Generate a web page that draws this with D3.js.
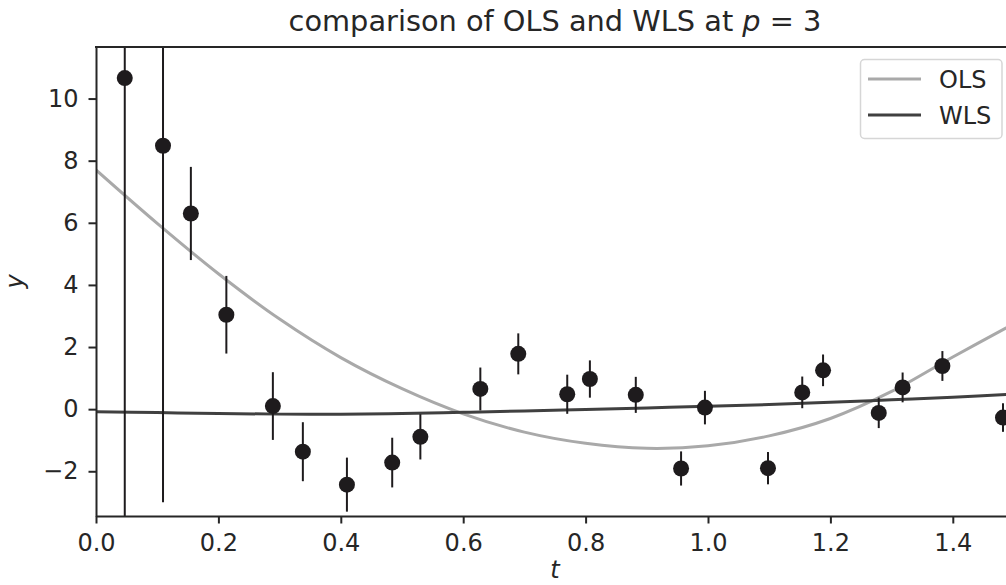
<!DOCTYPE html>
<html lang="en">
<head>
    <meta charset="UTF-8">
    <title>OLS vs WLS</title>
    <script type="text/javascript" src="https://cdn.jsdelivr.net/npm/d3@7"></script>
    <style type="text/css">
        body { margin: 0; background: white; }
        svg text { font-family: "DejaVu Sans", sans-serif; fill: #262626; }
        .axis text { font-size: 24px; }
        .axis line, .axis path { stroke: #262626; stroke-width: 2px; }
    </style>
</head>
<body>
    <script type="text/javascript">
        // observations (t, y, error half-width)
        var tObs = [0.047, 0.1095, 0.155, 0.213, 0.289, 0.338, 0.410, 0.484, 0.530, 0.628, 0.690,
                    0.770, 0.807, 0.882, 0.956, 0.995, 1.098, 1.154, 1.188, 1.279, 1.318, 1.383, 1.482];
        var yObs = [10.66, 8.48, 6.30, 3.04, 0.10, -1.37, -2.43, -1.72, -0.89, 0.65, 1.78,
                    0.48, 0.97, 0.46, -1.91, 0.05, -1.90, 0.54, 1.25, -0.12, 0.70, 1.39, -0.27];
        var yErr = [16.0, 11.48, 1.50, 1.25, 1.09, 0.95, 0.87, 0.80, 0.73, 0.69, 0.66,
                    0.63, 0.60, 0.58, 0.55, 0.54, 0.52, 0.51, 0.51, 0.49, 0.48, 0.48, 0.46];

        var tFit = [0, 0.1, 0.2, 0.3, 0.4, 0.5, 0.6, 0.7, 0.8, 0.9, 1.0, 1.1, 1.2, 1.3, 1.4, 1.5];
        var olsFit = [7.70, 5.98, 4.36, 2.90, 1.66, 0.66, -0.15, -0.74, -1.10, -1.26, -1.18, -0.86, -0.30, 0.57, 1.68, 2.75];
        var wlsFit = [-0.08, -0.11, -0.14, -0.16, -0.16, -0.14, -0.10, -0.06, -0.01, 0.04, 0.09, 0.15, 0.22, 0.30, 0.38, 0.49];

        var xTicks = [0.0, 0.2, 0.4, 0.6, 0.8, 1.0, 1.2, 1.4];
        var yTicks = [-2, 0, 2, 4, 6, 8, 10];
        var seriesNames = ["OLS", "WLS"];
        var seriesColors = ["#a9a9a9", "#404040"];

        var width = 1006;
        var height = 585;
        var plotLeft = 96, plotRight = 1014, plotTop = 47, plotBottom = 516;
        var dark = "#1e1b1d";

        var x = d3.scaleLinear().domain([0, 1.5]).range([plotLeft, plotRight]);
        var y = d3.scaleLinear().domain([-3.44, 11.66]).range([plotBottom, plotTop]);

        var svg = d3.select("body").append("svg")
            .attr("width", width)
            .attr("height", height);

        svg.append("defs").append("clipPath")
            .attr("id", "plot-area")
            .append("rect")
            .attr("x", plotLeft).attr("y", plotTop)
            .attr("width", plotRight - plotLeft).attr("height", plotBottom - plotTop);

        var plot = svg.append("g").attr("clip-path", "url(#plot-area)");

        var line = d3.line()
            .x(function(d) { return x(d[0]); })
            .y(function(d) { return y(d[1]); })
            .curve(d3.curveCatmullRom);

        var fits = [olsFit, wlsFit];
        fits.forEach(function(vals, i) {
            plot.append("path")
                .datum(tFit.map(function(t, j) { return [t, vals[j]]; }))
                .attr("d", line)
                .attr("fill", "none")
                .attr("stroke", seriesColors[i])
                .attr("stroke-width", 3);
        });

        var obs = tObs.map(function(t, i) { return { t: t, y: yObs[i], e: yErr[i] }; });

        plot.selectAll("line.err")
            .data(obs)
            .enter()
            .append("line")
            .attr("class", "err")
            .attr("x1", function(d) { return x(d.t); })
            .attr("x2", function(d) { return x(d.t); })
            .attr("y1", function(d) { return y(d.y - d.e); })
            .attr("y2", function(d) { return y(d.y + d.e); })
            .attr("stroke", dark)
            .attr("stroke-width", 2);

        plot.selectAll("circle")
            .data(obs)
            .enter()
            .append("circle")
            .attr("cx", function(d) { return x(d.t); })
            .attr("cy", function(d) { return y(d.y); })
            .attr("r", 8)
            .attr("fill", dark);

        // axes
        var axisX = d3.axisBottom(x)
            .tickValues(xTicks)
            .tickFormat(d3.format(".1f"))
            .tickSizeInner(7.5)
            .tickSizeOuter(0)
            .tickPadding(10);
        var axisY = d3.axisLeft(y)
            .tickValues(yTicks)
            .tickFormat(function(d) { return d < 0 ? "\u2212" + Math.abs(d) : d; })
            .tickSizeInner(7.5)
            .tickSizeOuter(0)
            .tickPadding(10);

        svg.append("g")
            .attr("class", "axis")
            .attr("transform", `translate(0, ${plotBottom})`)
            .call(axisX);
        svg.append("g")
            .attr("class", "axis")
            .attr("transform", `translate(${plotLeft}, 0)`)
            .call(axisY);
        svg.selectAll(".axis text").attr("fill", "#262626");

        // top spine
        svg.append("line")
            .attr("x1", plotLeft - 1).attr("x2", plotRight)
            .attr("y1", plotTop).attr("y2", plotTop)
            .attr("stroke", "#262626")
            .attr("stroke-width", 2);

        // title
        var title = svg.append("text")
            .attr("x", (plotLeft + plotRight) / 2)
            .attr("y", 31)
            .attr("text-anchor", "middle")
            .style("font-size", "28.8px");
        title.append("tspan").text("comparison of OLS and WLS at ");
        title.append("tspan").style("font-style", "italic").text("p");
        title.append("tspan").text(" = 3");

        // axis labels
        svg.append("text")
            .attr("x", (plotLeft + plotRight) / 2)
            .attr("y", 578)
            .attr("text-anchor", "middle")
            .style("font-size", "24px")
            .style("font-style", "italic")
            .text("t");
        svg.append("text")
            .attr("transform", `translate(23, ${(plotTop + plotBottom) / 2}) rotate(-90)`)
            .attr("text-anchor", "middle")
            .style("font-size", "24px")
            .style("font-style", "italic")
            .text("y");

        // legend
        var legend = svg.append("g");
        legend.append("rect")
            .attr("x", 860.5).attr("y", 59.5)
            .attr("width", 141.5).attr("height", 79)
            .attr("rx", 4)
            .attr("fill", "white")
            .attr("fill-opacity", 0.8)
            .attr("stroke", "#d6d6d6")
            .attr("stroke-width", 1.5);
        seriesNames.forEach(function(name, i) {
            var ly = 79 + i * 36;
            legend.append("line")
                .attr("x1", 868).attr("x2", 921)
                .attr("y1", ly).attr("y2", ly)
                .attr("stroke", seriesColors[i])
                .attr("stroke-width", 3);
            legend.append("text")
                .attr("x", 939)
                .attr("y", ly + 8.7)
                .style("font-size", "24px")
                .text(name);
        });
    </script>
</body>
</html>
